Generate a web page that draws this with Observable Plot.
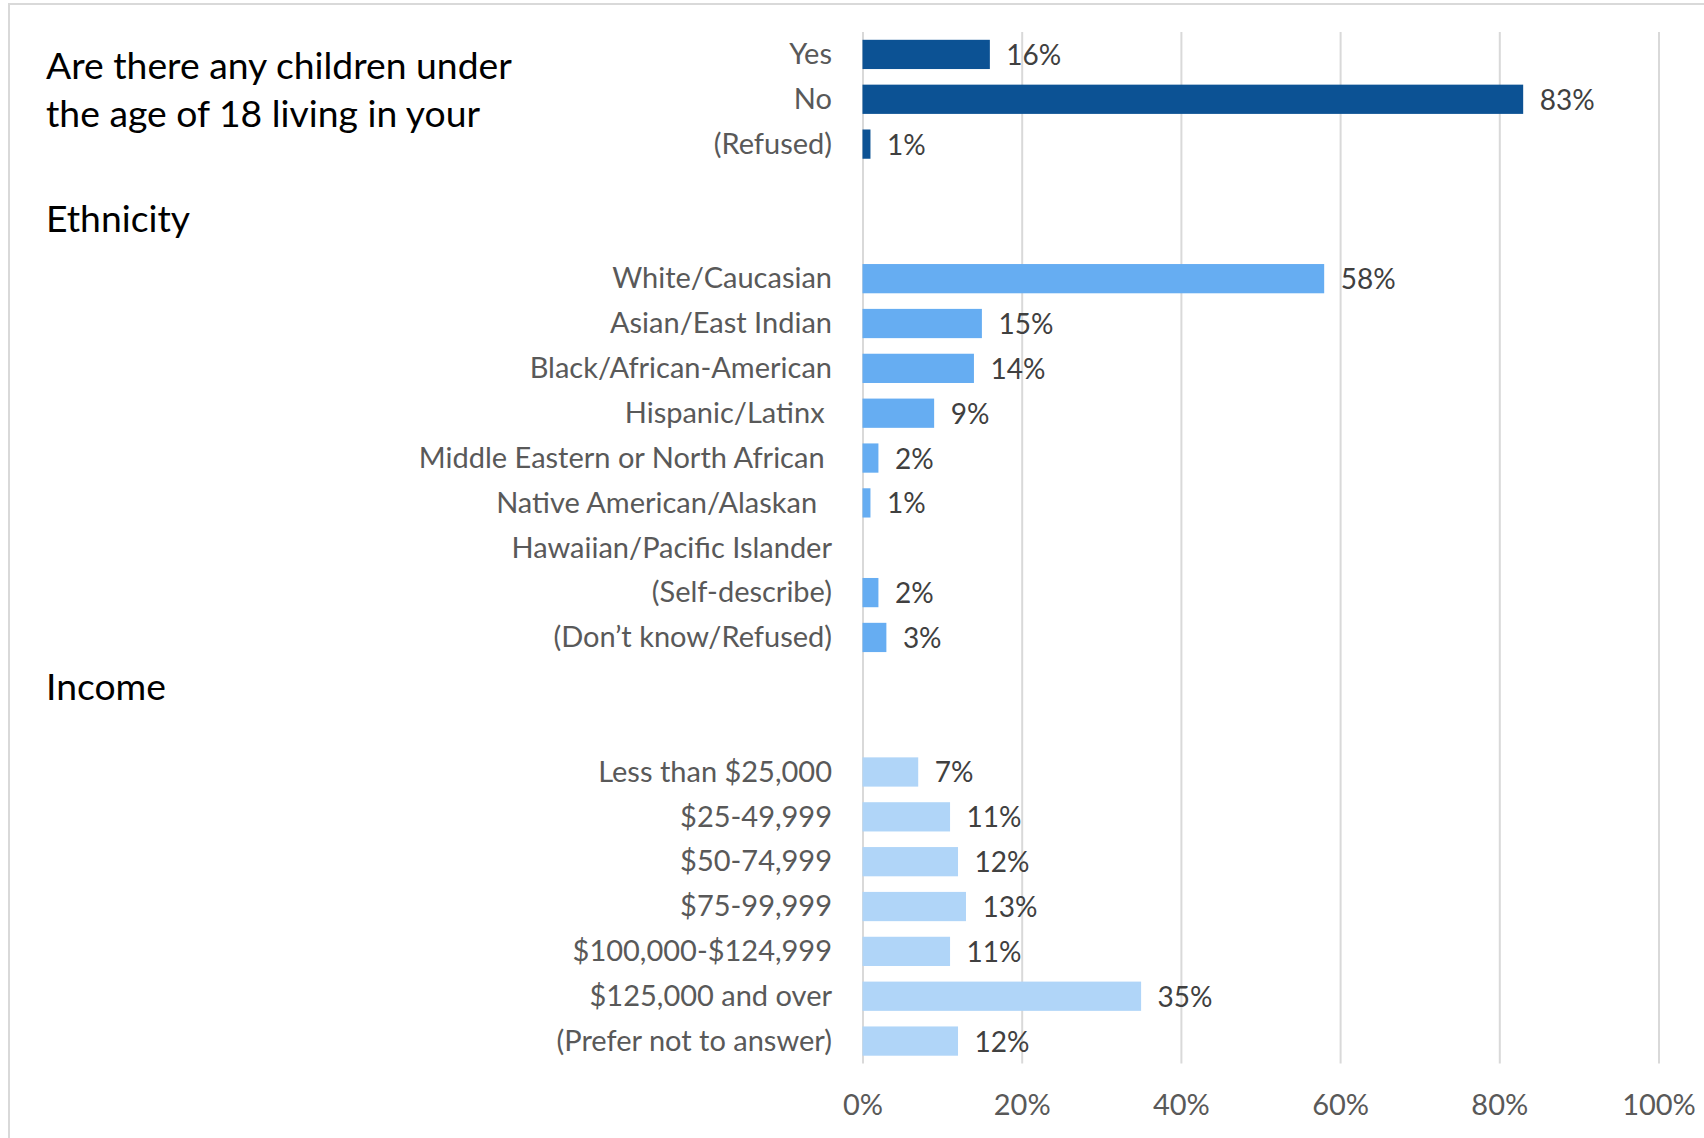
<!DOCTYPE html>
<html><head><meta charset="utf-8">
<script src="https://cdn.jsdelivr.net/npm/d3@7"></script>
<script src="https://cdn.jsdelivr.net/npm/@observablehq/plot@0.6"></script>
<style>
html,body{margin:0;padding:0;background:#fff;width:1704px;height:1138px;overflow:hidden;}
#wrap{position:relative;width:1704px;height:1138px;}
#frame{position:absolute;left:8px;top:3px;width:1800px;height:1300px;border-left:2px solid #d9d9d9;border-top:2px solid #d9d9d9;}
#chart{position:absolute;left:0;top:0;}
.hdr{position:absolute;left:46px;font-family:Lato,sans-serif;color:#000;font-size:37.3px;line-height:48px;white-space:pre;}
svg text{white-space:pre;}
</style></head><body>
<div id="wrap"><div id="frame"></div><div id="chart"></div>
<div class="hdr" id="t1" style="top:41px">Are there any children under
the age of 18 living in your</div>
<div class="hdr" id="t2" style="top:194px">Ethnicity</div>
<div class="hdr" id="t3" style="top:662px">Income</div>
</div>
<script>
const childLabels = ["Yes", "No", "(Refused)"];
const childValues = [16, 83, 1];
const ethLabels = ["White/Caucasian", "Asian/East Indian", "Black/African-American", "Hispanic/Latinx ", "Middle Eastern or North African ", "Native American/Alaskan  ", "Hawaiian/Pacific Islander", "(Self-describe)", "(Don\u2019t know/Refused)"];
const ethValues = [58, 15, 14, 9, 2, 1, null, 2, 3];
const incLabels = ["Less than $25,000", "$25-49,999", "$50-74,999", "$75-99,999", "$100,000-$124,999", "$125,000 and over", "(Prefer not to answer)"];
const incValues = [7, 11, 12, 13, 11, 35, 12];
const xTicks = [0, 20, 40, 60, 80, 100];

const mk = (labels, values) => labels.map((label, i) => ({label, value: values[i]}));
const child = mk(childLabels, childValues);
const eth = mk(ethLabels, ethValues);
const inc = mk(incLabels, incValues);
const gaps = ["gap1", "gap2", "gap3", "gap4"];
const domain = [...childLabels, gaps[0], gaps[1], ...ethLabels, gaps[2], gaps[3], ...incLabels];
const all = [...child, ...eth, ...inc].filter(d => d.value != null);

const inset = 7.8;
const chart = Plot.plot({
  width: 1704, height: 1138,
  marginLeft: 862.5, marginRight: 45.5, marginTop: 32, marginBottom: 74.5,
  style: {fontFamily: "Lato, sans-serif", fontSize: "29px", color: "#595959", background: "transparent"},
  x: {domain: [0, 100], ticks: xTicks, tickFormat: d => d + "%", label: null, tickSize: 0, tickPadding: 30, fontSize: 28},
  y: {domain, padding: 0, round: false, tickSize: 0, tickPadding: 31, label: null, tickFormat: d => gaps.includes(d) ? "" : d},
  marks: [
    Plot.ruleX(xTicks, {stroke: "#d9d9d9", strokeWidth: 2}),
    Plot.barX(child, {x: "value", y: "label", fill: "#0c5294", insetTop: inset, insetBottom: inset}),
    Plot.barX(eth.filter(d => d.value != null), {x: "value", y: "label", fill: "#66adf2", insetTop: inset, insetBottom: inset}),
    Plot.barX(inc, {x: "value", y: "label", fill: "#b0d5f8", insetTop: inset, insetBottom: inset}),
    Plot.text(all, {x: "value", y: "label", text: d => d.value + "%", textAnchor: "start", dx: 16, dy: 1, fill: "#404040", fontSize: 28})
  ]
});
document.getElementById("chart").appendChild(chart);
</script>
</body></html>
